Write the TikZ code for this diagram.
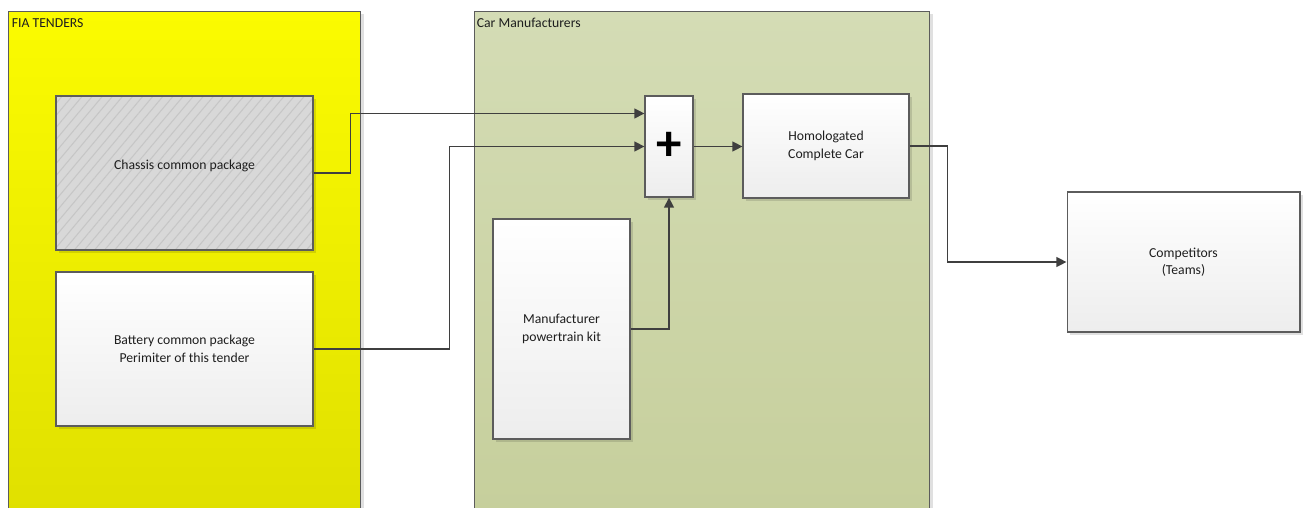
\documentclass[tikz,border=0pt]{standalone}
\usepackage{fontspec}
\setmainfont{Carlito}
\usetikzlibrary{positioning,arrows.meta,calc,shadows,patterns.meta}
\definecolor{ink}{HTML}{1E1E1E}
\definecolor{edge}{HTML}{5C5C5C}
\definecolor{wire}{HTML}{3F3F3F}
\definecolor{fiatop}{HTML}{FBFB00}
\definecolor{fiabot}{HTML}{E0E000}
\definecolor{mfrtop}{HTML}{D4DCB5}
\definecolor{mfrbot}{HTML}{C6CF9C}
\definecolor{hatchbg}{HTML}{D8D8D8}
\definecolor{hatchln}{HTML}{C6C6C6}
\definecolor{boxbot}{HTML}{EDEDED}
\tikzset{
  flow/.style={-{Triangle[length=5.8pt,width=5.6pt]}, line width=1pt, draw=wire},
  lane/.style={draw=edge, line width=0.6pt, top color=#1top, bottom color=#1bot,
    minimum height=10.02cm, inner sep=0pt,
    drop shadow={shadow xshift=1.6pt, shadow yshift=-1.6pt, fill=black, opacity=0.12}},
  lanelbl/.style={font=\fontsize{7.8}{9}\selectfont, text=ink, anchor=north west, inner sep=0pt},
  shadowed/.style={drop shadow={shadow xshift=1.6pt, shadow yshift=-1.6pt, fill=black, opacity=0.12}},
  card/.style={draw=edge, line width=0.6pt, top color=white, bottom color=boxbot,
    align=center, font=\fontsize{7.8}{10}\selectfont, text=ink, inner sep=0pt, shadowed},
  hatched/.style={shadowed, draw=edge, line width=0.6pt, preaction={fill=hatchbg},
    pattern={Lines[angle=50,distance=4.4pt,line width=0.6pt]}, pattern color=hatchln,
    align=center, font=\fontsize{7.8}{10}\selectfont, text=ink, inner sep=0pt},
}

\begin{document}
\begin{tikzpicture}[x=0.02cm,y=-0.02cm]
  \useasboundingbox (0,0) rectangle (1308,507);
  \clip (0,0) rectangle (1308,507);
  \fill[white] (0,0) rectangle (1308,507);

  % the two swim lanes
  \node[lane=fia, minimum width=7.06cm] (fia) at (184.5,262) {};
  \node[lane=mfr, minimum width=9.12cm] (mfr) at (702,262) {};
  \node[lanelbl] (fialbl) at ($(fia.north west)+(4,7)$) {FIA TENDERS};
  \node[lanelbl] (mfrlbl) at ($(mfr.north west)+(3,7)$) {Car Manufacturers};

  % tendered packages
  \node[hatched, minimum width=5.14cm, minimum height=3.08cm] (chassis) at (184.5,173)
    {\raisebox{4pt}[\height][\depth]{Chassis common package}};
  \node[card, minimum width=5.14cm, minimum height=3.08cm] (battery) at (184.5,349)
    {Battery common package\\Perimiter of this tender};

  % manufacturer side
  \node[card, minimum width=0.96cm, minimum height=2.02cm, font=\fontsize{29}{29}\selectfont\bfseries, text=black] (plus) at (669,146.5) {+};
  \node[card, minimum width=3.32cm, minimum height=2.08cm] (car) at (826,146) {Homologated\\Complete Car};
  \node[card, minimum width=2.74cm, minimum height=4.40cm] (kit) at (561.5,329) {Manufacturer\\powertrain kit};
  \node[card, minimum width=4.66cm, minimum height=2.80cm] (teams) at (1183.5,262) {Competitors\\(Teams)};

  \draw[flow] (chassis.east) -- ++(37,0) |- ($(plus.north west)+(0,18)$);
  \draw[flow] (battery.east) -- ++(136,0) |- (plus.west);
  \draw[flow] (kit.east) -| (plus.south);
  \draw[flow] (plus.east) -- (plus.east -| car.west);
  \draw[flow] (car.east) -- ++(38,0) |- (teams.west);
\end{tikzpicture}
\end{document}
